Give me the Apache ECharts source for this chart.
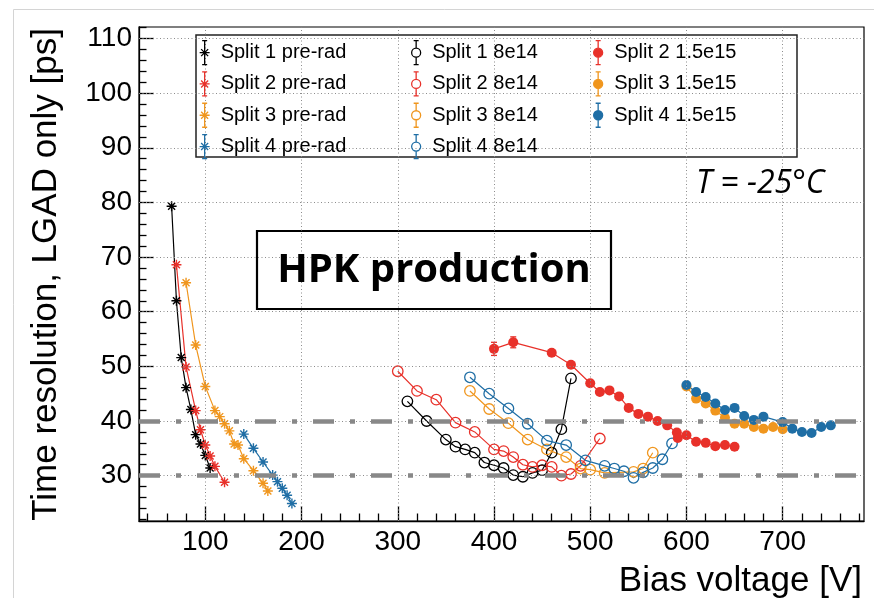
<!DOCTYPE html>
<html>
<head>
<meta charset="utf-8">
<script src="https://cdn.jsdelivr.net/npm/echarts@6/dist/echarts.min.js"></script>
<style>html,body{margin:0;padding:0;background:#fff}#c{width:874px;height:598px}</style>
</head>
<body>
<div id="c"></div>
<script>
// ---- data ----
const preV1 = [65, 70, 75, 80, 85, 90, 95, 100, 105];
const preT1 = [79.3, 62.0, 51.6, 46.1, 42.1, 37.5, 35.8, 33.7, 31.4];
const preV2 = [70, 80, 90, 95, 100, 105, 110, 120];
const preT2 = [68.6, 49.9, 41.9, 38.4, 35.6, 33.6, 31.7, 28.8];
const preV3 = [80, 90, 100, 110, 115, 120, 125, 130, 134, 140, 150, 160, 165];
const preT3 = [65.3, 53.9, 46.3, 41.9, 40.8, 39.5, 38.2, 35.8, 35.6, 33.1, 30.9, 28.6, 27.2];
const preV4 = [140, 150, 160, 170, 175, 180, 185, 190];
const preT4 = [37.6, 35.0, 32.5, 30.1, 28.9, 27.7, 26.4, 24.9];

const midV1 = [310, 330, 350, 360, 370, 380, 390, 400, 410, 420, 430, 440, 450, 460, 470, 480];
const midT1 = [43.6, 40.0, 36.6, 35.3, 34.8, 34.2, 32.4, 31.9, 31.4, 30.1, 29.8, 30.5, 31.0, 34.2, 38.5, 47.8];
const midV2 = [300, 320, 340, 360, 380, 400, 410, 420, 430, 440, 450, 460, 470, 480, 490, 510];
const midT2 = [49.1, 45.5, 43.9, 39.7, 38.0, 34.8, 34.5, 33.4, 32.0, 31.6, 31.9, 31.6, 30.0, 30.3, 31.8, 36.8];
const midV3 = [375, 395, 415, 435, 455, 475, 490, 500, 515, 545, 555, 565];
const midT3 = [45.5, 42.2, 39.6, 36.6, 34.8, 33.4, 31.3, 31.1, 30.5, 30.7, 31.3, 34.2];
const midV4 = [375, 395, 415, 435, 455, 475, 495, 515, 525, 535, 545, 555, 565, 575, 585];
const midT4 = [48.0, 45.0, 42.3, 39.5, 36.4, 35.6, 32.8, 31.8, 31.3, 30.8, 29.6, 30.6, 31.4, 33.0, 35.9];

const hiV2 = [400, 420, 460, 480, 500, 510, 520, 530, 540, 550, 560, 570, 580, 590, 591, 600, 610, 620, 630, 640, 650];
const hiT2 = [53.2, 54.4, 52.5, 50.3, 46.9, 45.3, 45.6, 44.5, 42.4, 41.3, 40.8, 40.0, 39.2, 37.9, 36.9, 37.4, 36.2, 36.0, 35.4, 35.6, 35.3];
const hiE2 = [1.2, 1.0, 0.5, 0.5, 0.4, 0.4, 0.4, 0.4, 0.4, 0.4, 0.4, 0.4, 0.4, 0.4, 0.4, 0.4, 0.4, 0.4, 0.4, 0.4, 0.4];
const hiV3 = [600, 610, 620, 630, 640, 650, 660, 670, 680, 690, 700];
const hiT3 = [46.3, 44.1, 43.2, 41.9, 40.6, 39.5, 39.5, 38.9, 38.6, 38.9, 38.5];
const hiV4 = [600, 610, 620, 630, 640, 650, 660, 670, 680, 700, 710, 720, 730, 740, 750];
const hiT4 = [46.6, 45.3, 44.4, 43.2, 42.0, 42.4, 40.9, 40.2, 40.8, 39.8, 38.6, 38.0, 37.8, 38.9, 39.2];

const refLines = [40, 30];
const xTicks = [100, 200, 300, 400, 500, 600, 700];
const yTicks = [30, 40, 50, 60, 70, 80, 90, 100, 110];

// ---- styling ----
const X_MIN = 31.1, X_MAX = 784.5, Y_MIN = 21.7, Y_MAX = 112.1;
const C = { k: '#000000', r: '#e8312a', o: '#f0961e', b: '#1f6ea5' };
const FONT = '"Liberation Sans", Arial, sans-serif';

const xMinor = []; for (let v = 40; v < X_MAX; v += 20) if (v % 100 !== 0) xMinor.push(v);
const yMinor = []; for (let v = 22; v < Y_MAX; v += 2) if (v % 10 !== 0) yMinor.push(v);

const zip = (a, b) => a.map((v, i) => [v, b[i]]);
const STAR = 'path://M5,0L5,10M0,5L10,5M1.5,1.5L8.5,8.5M1.5,8.5L8.5,1.5';
const ICON_STAR = 'path://M6,0L6,24M3.5,0L8.5,0M3.5,24L8.5,24M1,12L11,12M2.5,8.5L9.5,15.5M2.5,15.5L9.5,8.5';
const ICON_CIRC = 'path://M6,0L6,7.5M6,16.5L6,24M3.5,0L8.5,0M3.5,24L8.5,24M1.5,12A4.5,4.5,0,1,0,10.5,12A4.5,4.5,0,1,0,1.5,12Z';

function preSeries(name, V, T, c) {
  return { name, type: 'line', data: zip(V, T), symbol: STAR, symbolSize: 10, z: 3,
    itemStyle: { color: c, borderColor: c, borderWidth: 1.4 }, lineStyle: { color: c, width: 1.2 }, animation: false };
}
function openSeries(name, V, T, c) {
  return { name, type: 'line', data: zip(V, T), symbol: 'circle', symbolSize: 10.5, z: 3,
    itemStyle: { color: 'rgba(0,0,0,0)', borderColor: c, borderWidth: 1.3 }, lineStyle: { color: c, width: 1.2 }, animation: false };
}
function fullSeries(name, V, T, c) {
  return { name, type: 'line', data: zip(V, T), symbol: 'circle', symbolSize: 10, z: 3,
    itemStyle: { color: c }, lineStyle: { color: c, width: 1.2 }, animation: false };
}
function errSeries(V, T, E, c) {
  return { type: 'custom', z: 3, silent: true, animation: false,
    data: V.map((v, i) => [v, T[i] - E[i], T[i] + E[i]]),
    renderItem: (params, api) => {
      const lo = api.coord([api.value(0), api.value(1)]);
      const hi = api.coord([api.value(0), api.value(2)]);
      const w = 3;
      return { type: 'group', children: [
        { type: 'line', shape: { x1: lo[0], y1: lo[1], x2: hi[0], y2: hi[1] }, style: { stroke: c, lineWidth: 1.3 } },
        { type: 'line', shape: { x1: hi[0] - w, y1: hi[1], x2: hi[0] + w, y2: hi[1] }, style: { stroke: c, lineWidth: 1.3 } },
        { type: 'line', shape: { x1: lo[0] - w, y1: lo[1], x2: lo[0] + w, y2: lo[1] }, style: { stroke: c, lineWidth: 1.3 } }
      ] };
    } };
}

const gridLine = { color: '#8c8c8c', width: 1, type: [1, 2.5] };

const series = [
  { name: '_grid', type: 'line', data: [], z: 1, animation: false,
    markLine: { silent: true, symbol: 'none', label: { show: false }, animation: false,
      lineStyle: gridLine,
      data: [...yTicks.map(v => ({ yAxis: v })), ...xTicks.map(v => ({ xAxis: v }))] } },
  { name: '_ref', type: 'line', data: [], z: 2, animation: false,
    markLine: { silent: true, symbol: 'none', label: { show: false }, animation: false,
      lineStyle: { color: '#888888', width: 4.5, type: [21, 16, 5, 16] },
      data: refLines.map(v => ({ yAxis: v })) } },
  preSeries('Split 1 pre-rad', preV1, preT1, C.k),
  preSeries('Split 2 pre-rad', preV2, preT2, C.r),
  preSeries('Split 3 pre-rad', preV3, preT3, C.o),
  preSeries('Split 4 pre-rad', preV4, preT4, C.b),
  openSeries('Split 1 8e14', midV1, midT1, C.k),
  openSeries('Split 2 8e14', midV2, midT2, C.r),
  openSeries('Split 3 8e14', midV3, midT3, C.o),
  openSeries('Split 4 8e14', midV4, midT4, C.b),
  errSeries(hiV2, hiT2, hiE2, C.r),
  fullSeries('Split 2 1.5e15', hiV2, hiT2, C.r),
  fullSeries('Split 3 1.5e15', hiV3, hiT3, C.o),
  fullSeries('Split 4 1.5e15', hiV4, hiT4, C.b)
];

function legendCol(left, items) {
  return {
    orient: 'vertical', left, top: 40, padding: 0, itemGap: 6, itemWidth: 22, itemHeight: 24, z: 6,
    selectedMode: false,
    textStyle: { fontSize: 20, fontFamily: FONT, color: '#000' },
    data: items
  };
}
const legItem = (name, kind, c) => {
  if (kind === 'pre') return { name, icon: ICON_STAR, itemStyle: { color: c, borderColor: c, borderWidth: 1.3 } };
  if (kind === 'open') return { name, icon: ICON_CIRC, itemStyle: { color: 'rgba(0,0,0,0)', borderColor: c, borderWidth: 1.3 } };
  return { name, icon: ICON_CIRC, itemStyle: { color: c, borderColor: c, borderWidth: 1.3 } };
};

const option = {
  backgroundColor: '#fff',
  animation: false,
  grid: { left: 139, right: 10, top: 27, bottom: 77, show: true, borderColor: '#000', borderWidth: 1.2, backgroundColor: '#fff' },
  xAxis: [
    { type: 'value', min: X_MIN, max: X_MAX, position: 'bottom',
      axisLine: { show: true, lineStyle: { color: '#000', width: 1.3 } },
      axisTick: { show: true, inside: true, length: 15, customValues: xTicks, lineStyle: { color: '#000', width: 1.3 } },
      axisLabel: { customValues: xTicks, color: '#000', fontSize: 28, fontFamily: FONT, margin: 7 },
      splitLine: { show: false } },
    { type: 'value', min: X_MIN, max: X_MAX, position: 'bottom',
      axisLine: { show: false },
      axisTick: { show: true, inside: true, length: 7.5, customValues: xMinor, lineStyle: { color: '#000', width: 1.3 } },
      axisLabel: { show: false }, splitLine: { show: false } }
  ],
  yAxis: [
    { type: 'value', min: Y_MIN, max: Y_MAX, position: 'left',
      axisLine: { show: true, lineStyle: { color: '#000', width: 1.3 } },
      axisTick: { show: true, inside: true, length: 15, customValues: yTicks, lineStyle: { color: '#000', width: 1.3 } },
      axisLabel: { customValues: yTicks, color: '#000', fontSize: 28, fontFamily: FONT, margin: 7 },
      splitLine: { show: false } },
    { type: 'value', min: Y_MIN, max: Y_MAX, position: 'left',
      axisLine: { show: false },
      axisTick: { show: true, inside: true, length: 7.5, customValues: yMinor, lineStyle: { color: '#000', width: 1.3 } },
      axisLabel: { show: false }, splitLine: { show: false } }
  ],
  legend: [
    legendCol(199, [legItem('Split 1 pre-rad', 'pre', C.k), legItem('Split 2 pre-rad', 'pre', C.r), legItem('Split 3 pre-rad', 'pre', C.o), legItem('Split 4 pre-rad', 'pre', C.b)]),
    legendCol(411, [legItem('Split 1 8e14', 'open', C.k), legItem('Split 2 8e14', 'open', C.r), legItem('Split 3 8e14', 'open', C.o), legItem('Split 4 8e14', 'open', C.b)]),
    legendCol(593, [legItem('Split 2 1.5e15', 'full', C.r), legItem('Split 3 1.5e15', 'full', C.o), legItem('Split 4 1.5e15', 'full', C.b)])
  ],
  graphic: [
    { type: 'rect', silent: true, z: -10, shape: { x: 13.5, y: 9.5, width: 900, height: 700 }, style: { fill: 'none', stroke: '#d4d4d4', lineWidth: 1 } },
    { type: 'rect', silent: true, z: 5, shape: { x: 196, y: 35, width: 601, height: 122 }, style: { fill: '#fff', stroke: '#222', lineWidth: 1.5 } },
    { type: 'rect', silent: true, z: 5, shape: { x: 257, y: 231, width: 354, height: 78 }, style: { fill: '#fff', stroke: '#000', lineWidth: 2.2 } },
    { type: 'text', silent: true, z: 6, x: 434, y: 271, style: { text: 'HPK production', fill: '#000', font: 'bold 40px "Open Sans"', align: 'center', verticalAlign: 'middle' } },
    { type: 'text', silent: true, z: 6, x: 696, y: 184, style: { text: 'T = -25°C', fill: '#000', font: 'italic 32px "Open Sans"', align: 'left', verticalAlign: 'middle' } },
    { type: 'text', silent: true, z: 6, x: 862, y: 581, style: { text: 'Bias voltage [V]', fill: '#000', font: '35px "Liberation Sans"', align: 'right', verticalAlign: 'middle' } },
    { type: 'text', silent: true, z: 6, x: 46, y: 28, rotation: Math.PI / 2, style: { text: 'Time resolution, LGAD only [ps]', fill: '#000', font: '35px "Liberation Sans"', align: 'right', verticalAlign: 'middle' } }
  ],
  series
};

const chart = echarts.init(document.getElementById('c'), null, { renderer: 'canvas', width: 874, height: 598 });
chart.setOption(option);
</script>
</body>
</html>
